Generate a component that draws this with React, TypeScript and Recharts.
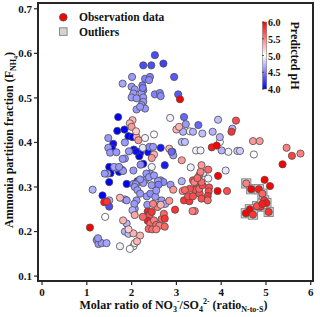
import { ScatterChart, Scatter, XAxis, YAxis } from "recharts";

// molar ratio NO3-/SO4 2- (x), ammonia partition fraction (y), predicted pH (colour)
const ratio = [
  2.52, 2.26, 2.44, 2.71, 2.95, 2.01, 1.8, 2.3, 2.41, 2.39, 2.24, 2.52, 2.63, 2.65, 3.04, 3.08, 2.0, 2.07, 2.04, 2.0,
  2.26, 2.22, 2.26, 2.26, 2.22, 2.11, 2.3, 2.19, 2.11, 2.25,
  1.7, 1.68, 1.84, 1.93, 2.02, 1.59, 1.56, 2.05, 2.19, 2.17, 2.26, 2.37, 1.5, 1.53, 1.5, 1.72, 1.89, 1.35, 2.13, 2.65,
  2.74, 2.91, 2.1, 3.17, 3.49,
  2.02, 1.96, 2.0, 2.11, 2.15, 2.1, 2.5, 2.45, 2.84,
  2.5, 2.3, 2.86, 2.25, 1.41, 1.74, 2.04, 1.96, 2.07, 3.32, 3.6, 3.71, 4.1, 3.97, 4.16, 4.73, 3.44, 3.54, 2.45, 3.3,
  1.48, 1.48, 1.85, 2.04, 1.65, 1.78, 1.81, 1.46, 2.3, 2.41, 2.15, 2.04, 1.13, 1.52, 1.61, 1.72, 1.8, 1.5, 1.85, 1.5,
  2.07, 2.34, 2.42, 2.53, 2.62, 2.67, 2.87, 2.65, 2.71, 2.33, 2.39, 2.45, 2.26, 2.19, 2.09, 2.07, 2.13, 2.19, 2.11, 2.06,
  2.02, 1.89, 2.2, 1.94, 1.85, 2.4, 2.48, 2.93, 2.89, 3.21, 3.37, 3.58, 3.81, 3.93, 4.25, 3.97, 4.36, 4.01, 3.15, 3.12,
  3.19, 2.59, 2.5, 3.12, 4.42, 1.89, 1.85, 1.93, 1.22, 1.29, 1.26, 1.33, 1.44, 1.25, 2.6, 1.66, 2.55, 2.35, 2.75, 1.4,
  1.07, 1.39, 1.45, 1.74, 1.81, 2.04, 2.19, 2.07, 2.12, 1.93,
  2.36, 2.4, 2.45, 2.36, 2.42, 2.5, 2.38, 2.46, 2.55, 2.62, 2.55, 2.67, 2.74, 2.25, 2.58, 2.72, 2.48, 2.65,
  2.97, 2.74, 3.41, 3.36, 2.93, 2.84, 3.14, 3.17, 3.29, 3.37, 3.45, 3.41, 3.3, 3.19, 3.26, 3.37, 3.52, 3.56, 3.51, 3.58,
  3.56, 3.51, 3.54, 3.56, 3.71, 3.73, 3.72, 3.7, 3.7, 3.92, 4.13, 3.93, 3.12, 3.4, 3.47,
  3.79, 3.9, 4.33, 4.23, 3.0, 3.06, 4.71, 4.86, 5.46, 5.58, 5.77, 5.37, 4.97, 5.09,
];
const fraction = [
  0.596, 0.573, 0.573, 0.577, 0.547, 0.547, 0.532, 0.543, 0.547, 0.54, 0.528, 0.508, 0.511, 0.504, 0.508, 0.497, 0.525, 0.519, 0.51, 0.501,
  0.517, 0.51, 0.501, 0.491, 0.484, 0.474, 0.476, 0.48, 0.499, 0.522,
  0.457, 0.426, 0.429, 0.414, 0.412, 0.397, 0.386, 0.384, 0.376, 0.369, 0.352, 0.378, 0.345, 0.331, 0.311, 0.334, 0.307, 0.281, 0.313, 0.388,
  0.349, 0.379, 0.38, 0.457, 0.439,
  0.45, 0.443, 0.435, 0.412, 0.405, 0.425, 0.373, 0.365, 0.386,
  0.418, 0.41, 0.455, 0.388, 0.233, 0.167, 0.167, 0.161, 0.174, 0.344, 0.331, 0.319, 0.337, 0.401, 0.379, 0.373, 0.382, 0.382, 0.345, 0.425,
  0.41, 0.388, 0.364, 0.337, 0.343, 0.339, 0.336, 0.33, 0.315, 0.33, 0.311, 0.307, 0.294, 0.377, 0.345, 0.345, 0.363, 0.27, 0.272, 0.256,
  0.251, 0.279, 0.285, 0.278, 0.261, 0.27, 0.305, 0.315, 0.311, 0.33, 0.322, 0.304, 0.309, 0.317, 0.306, 0.3, 0.293, 0.285, 0.27, 0.262,
  0.248, 0.27, 0.35, 0.38, 0.4, 0.39, 0.39, 0.371, 0.379, 0.441, 0.424, 0.42, 0.424, 0.451, 0.431, 0.412, 0.381, 0.382, 0.424, 0.401,
  0.401, 0.314, 0.326, 0.313, 0.381, 0.218, 0.2, 0.195, 0.181, 0.176, 0.172, 0.174, 0.174, 0.185, 0.305, 0.378, 0.292, 0.26, 0.262, 0.33,
  0.209, 0.266, 0.267, 0.276, 0.225, 0.196, 0.191, 0.237, 0.178, 0.205,
  0.245, 0.236, 0.244, 0.224, 0.218, 0.225, 0.206, 0.205, 0.215, 0.213, 0.205, 0.228, 0.211, 0.233, 0.255, 0.24, 0.262, 0.26,
  0.249, 0.229, 0.246, 0.246, 0.294, 0.269, 0.291, 0.27, 0.268, 0.315, 0.306, 0.293, 0.296, 0.293, 0.279, 0.279, 0.285, 0.274, 0.296, 0.304,
  0.311, 0.326, 0.334, 0.349, 0.339, 0.299, 0.29, 0.28, 0.27, 0.291, 0.291, 0.325, 0.36, 0.311, 0.32,
  0.389, 0.393, 0.449, 0.424, 0.429, 0.435, 0.403, 0.403, 0.388, 0.37, 0.375, 0.351, 0.316, 0.302,
];
const ph = [
  4.3, 4.3, 4.3, 4.25, 4.35, 4.6, 4.65, 4.5, 4.5, 4.55, 4.5, 4.5, 4.5, 4.55, 4.35, 6.0, 4.6, 4.6, 4.6, 4.6,
  4.55, 4.6, 4.6, 4.6, 4.6, 4.6, 4.6, 4.6, 4.6, 4.5,
  4.0, 4.0, 4.0, 4.0, 4.0, 4.05, 4.0, 4.0, 4.0, 4.0, 4.0, 4.05, 4.0, 4.0, 4.0, 4.0, 4.0, 4.0, 4.05, 4.1,
  4.1, 4.3, 4.05, 4.4, 4.4,
  5.3, 5.3, 5.4, 5.3, 5.4, 5.2, 5.3, 5.4, 5.3,
  5.0, 4.95, 4.95, 4.9, 5.0, 4.95, 4.95, 5.0, 5.05, 4.95, 4.9, 4.95, 4.9, 5.0, 4.95, 5.0, 4.95, 4.95, 4.95, 5.05,
  4.6, 4.6, 4.6, 4.6, 4.6, 4.6, 4.6, 4.6, 4.6, 4.6, 4.6, 4.6, 4.7, 4.6, 4.65, 4.6, 4.6, 4.7, 4.65, 4.3,
  4.6, 4.6, 4.55, 4.6, 4.7, 4.6, 4.6, 4.6, 4.55, 4.6, 4.6, 4.6, 4.6, 4.6, 4.6, 4.6, 4.6, 4.6, 4.6, 4.6,
  4.7, 4.6, 4.55, 4.6, 4.6, 4.55, 4.6, 4.6, 4.4, 4.6, 4.7, 4.75, 4.7, 4.75, 4.7, 4.7, 4.8, 4.7, 4.7, 4.75,
  4.75, 4.6, 4.6, 4.7, 4.8, 4.7, 4.7, 4.75, 4.6, 4.6, 4.6, 4.6, 4.65, 4.6, 4.5, 4.6, 4.6, 4.6, 4.65, 4.6,
  6.0, 5.9, 5.8, 5.3, 5.3, 5.3, 5.3, 5.35, 5.3, 5.2,
  5.9, 5.7, 5.8, 5.9, 5.6, 5.5, 5.6, 5.6, 5.6, 5.5, 5.5, 5.6, 5.6, 5.6, 5.5, 5.6, 5.5, 5.3,
  5.8, 5.8, 5.5, 5.5, 5.4, 5.4, 5.4, 5.8, 5.8, 5.7, 5.7, 5.7, 5.7, 5.6, 5.7, 5.7, 5.7, 5.7, 5.6, 5.7,
  5.6, 5.6, 5.5, 5.4, 5.6, 5.7, 5.7, 5.8, 5.6, 6.0, 5.7, 6.0, 5.4, 5.5, 5.6,
  5.9, 6.0, 5.7, 5.8, 5.3, 5.3, 5.4, 5.4, 5.5, 5.75, 5.5, 6.0, 6.0, 6.0,
];

// outliers (drawn with a grey square behind the circle)
const outlierRatio = [4.56, 4.67, 4.84, 4.92, 4.96, 5.01, 4.88, 4.8, 4.64, 4.55, 4.71, 5.06, 4.92];
const outlierFraction = [0.308, 0.295, 0.295, 0.285, 0.27, 0.264, 0.256, 0.257, 0.25, 0.241, 0.238, 0.244, 0.262];
const outlierPh = [5.5, 6.0, 5.9, 5.6, 5.8, 5.9, 5.8, 5.7, 6.0, 6.0, 5.8, 5.8, 5.9];

const xTicks = [0, 1, 2, 3, 4, 5, 6];
const yTicks = [0.1, 0.2, 0.3, 0.4, 0.5, 0.6, 0.7];
const phTicks = ["6.0", "5.5", "5.0", "4.5", "4.0"];
const X_DOMAIN = [-0.09, 6.05];
const Y_DOMAIN = [0.089, 0.713];

const FONT = "'Liberation Serif', 'Times New Roman', serif";
const AXIS = "#262626";

const phColor = (v: number) => {
  const t = Math.max(0, Math.min(1, (v - 4) / 2));
  if (t < 0.5) {
    const c = Math.round(255 * (t / 0.5));
    return `rgb(${c},${c},255)`;
  }
  const c = Math.round(255 * (1 - (t - 0.5) / 0.5));
  return `rgb(255,${c},${c})`;
};

const points = ratio.map((x, i) => ({ x, y: fraction[i], ph: ph[i] }));
const outliers = outlierRatio.map((x, i) => ({ x, y: outlierFraction[i], ph: outlierPh[i] }));

const Dot = (props: any) => {
  const { cx, cy, payload } = props;
  return <circle cx={cx} cy={cy} r={3.6} fill={phColor(payload.ph)} stroke="#4d4d4d" strokeWidth={0.8} />;
};

const Square = (props: any) => {
  const { cx, cy } = props;
  return <rect x={cx - 4.6} y={cy - 4.6} width={9.2} height={9.2} fill="#d3d3d3" stroke="#8a8a8a" strokeWidth={1} />;
};

const tickStyle = { fontFamily: FONT, fontSize: 11, fontWeight: 700, fill: "#111" };

const XTitle = ({ viewBox }: any) => {
  const cx = viewBox.x + viewBox.width / 2 - 2;
  return (
    <text x={cx} y={309} textAnchor="middle" fontFamily={FONT} fontSize={12} fontWeight={700} fill="#111">
      Molar ratio of NO<tspan fontSize={8} dy={3}>3</tspan>
      <tspan fontSize={8} dy={-8}>-</tspan>
      <tspan dy={5}>/SO</tspan>
      <tspan fontSize={8} dy={3}>4</tspan>
      <tspan fontSize={8} dy={-8}>2-</tspan>
      <tspan dy={5}> (ratio</tspan>
      <tspan fontSize={8} dy={3}>N-to-S</tspan>
      <tspan dy={-3}>)</tspan>
    </text>
  );
};

const YTitle = ({ viewBox }: any) => {
  const cy = viewBox.y + viewBox.height / 2 - 2;
  return (
    <text
      x={13}
      y={cy}
      transform={`rotate(-90 13 ${cy})`}
      textAnchor="middle"
      fontFamily={FONT}
      fontSize={12}
      fontWeight={700}
      fill="#111"
    >
      Ammonia partition fraction (F<tspan fontSize={8} dy={3}>NH</tspan>
      <tspan fontSize={6} dy={2}>4</tspan>
      <tspan dy={-5}>)</tspan>
    </text>
  );
};

export default function App() {
  return (
    <div style={{ position: "absolute", left: 0, top: 0, width: 320, height: 317, background: "#fff" }}>
      <ScatterChart width={320} height={317} margin={{ top: 3, right: 7, bottom: 0, left: 0 }}>
        <XAxis
          type="number"
          dataKey="x"
          domain={X_DOMAIN}
          ticks={xTicks}
          allowDataOverflow
          height={36}
          tickSize={4}
          tickMargin={3}
          tick={tickStyle}
          axisLine={{ stroke: AXIS, strokeWidth: 2 }}
          tickLine={{ stroke: AXIS, strokeWidth: 1.2 }}
          label={<XTitle />}
        />
        <YAxis
          type="number"
          dataKey="y"
          domain={Y_DOMAIN}
          ticks={yTicks}
          allowDataOverflow
          width={38}
          tickSize={4}
          tickMargin={2}
          tick={tickStyle}
          tickFormatter={(v: number) => v.toFixed(1)}
          axisLine={{ stroke: AXIS, strokeWidth: 2 }}
          tickLine={{ stroke: AXIS, strokeWidth: 1.2 }}
          label={<YTitle />}
        />
        <Scatter data={outliers} shape={Square} isAnimationActive={false} />
        <Scatter data={points} shape={Dot} isAnimationActive={false} />
        <Scatter data={outliers} shape={Dot} isAnimationActive={false} />
      </ScatterChart>

      {/* plot frame, legend and pH colour bar */}
      <svg width={320} height={317} style={{ position: "absolute", left: 0, top: 0, pointerEvents: "none" }}>
        <defs>
          <linearGradient id="phbar" x1="0" y1="1" x2="0" y2="0">
            <stop offset="0" stopColor="#0000ff" />
            <stop offset="0.5" stopColor="#ffffff" />
            <stop offset="1" stopColor="#ff0000" />
          </linearGradient>
        </defs>
        <rect x={38} y={3} width={275} height={278} fill="none" stroke={AXIS} strokeWidth={2} />
        <g fontFamily={FONT} fontWeight={700} fill="#111">
          <circle cx={63.3} cy={17.3} r={3.8} fill="#ff0000" stroke="#4d4d4d" strokeWidth={0.8} />
          <text x={79} y={21} fontSize={11.5}>Observation data</text>
          <rect x={59.5} y={27.8} width={7.6} height={7.6} fill="#d3d3d3" stroke="#8a8a8a" strokeWidth={1} />
          <text x={79} y={35.5} fontSize={11.5}>Outliers</text>

          <rect x={262.5} y={22} width={4.2} height={67} fill="url(#phbar)" stroke="#666" strokeWidth={0.5} />
          {phTicks.map((t, i) => (
            <g key={t}>
              <line x1={262} x2={264} y1={22 + i * 16.75} y2={22 + i * 16.75} stroke="#333" strokeWidth={0.8} />
              <text x={268} y={26 + i * 16.75} fontSize={10}>
                {t}
              </text>
            </g>
          ))}
          <text x={291} y={55.5} fontSize={12} textAnchor="middle" transform="rotate(90 291 55.5)">
            Predicted pH
          </text>
        </g>
      </svg>
    </div>
  );
}
